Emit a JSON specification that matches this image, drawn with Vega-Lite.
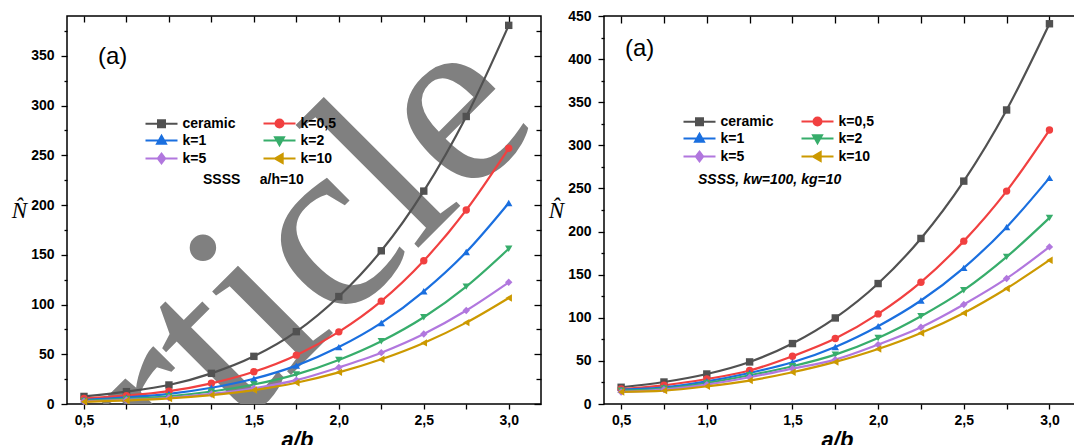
{
  "$schema": "https://vega.github.io/schema/vega-lite/v6.json",
  "padding": {"left": 10, "top": 8, "right": 0, "bottom": 0},
  "spacing": 4,
  "config": {
    "view": {"stroke": "#000", "strokeWidth": 1.5},
    "axis": {"domain": false, "grid": false, "labelFont": "Liberation Sans", "labelFontWeight": "bold", "labelFontSize": 14, "labelColor": "#000", "tickColor": "#000", "tickWidth": 1.3, "titleColor": "#000"},
    "legend": {"orient": "none", "direction": "horizontal", "columns": 2, "columnPadding": 24, "rowPadding": 0, "symbolSize": 256, "symbolStrokeWidth": 2, "symbolOpacity": 1, "labelFont": "Liberation Sans", "labelFontWeight": "bold", "labelFontSize": 14, "labelColor": "#000", "labelOffset": 12, "labelLimit": 200, "padding": 0}
  },
  "datasets": {
    "left": [
      {"ab": 0.5, "series": "ceramic", "N": 7.6}, {"ab": 0.75, "series": "ceramic", "N": 12.4}, {"ab": 1.0, "series": "ceramic", "N": 19.1}, {"ab": 1.25, "series": "ceramic", "N": 30.8}, {"ab": 1.5, "series": "ceramic", "N": 47.9}, {"ab": 1.75, "series": "ceramic", "N": 72.7}, {"ab": 2.0, "series": "ceramic", "N": 108}, {"ab": 2.25, "series": "ceramic", "N": 154}, {"ab": 2.5, "series": "ceramic", "N": 214}, {"ab": 2.75, "series": "ceramic", "N": 289}, {"ab": 3.0, "series": "ceramic", "N": 380.6},
      {"ab": 0.5, "series": "k=0,5", "N": 5.6}, {"ab": 0.75, "series": "k=0,5", "N": 8.4}, {"ab": 1.0, "series": "k=0,5", "N": 12.9}, {"ab": 1.25, "series": "k=0,5", "N": 20.8}, {"ab": 1.5, "series": "k=0,5", "N": 32.4}, {"ab": 1.75, "series": "k=0,5", "N": 49.1}, {"ab": 2.0, "series": "k=0,5", "N": 72.5}, {"ab": 2.25, "series": "k=0,5", "N": 103.4}, {"ab": 2.5, "series": "k=0,5", "N": 144}, {"ab": 2.75, "series": "k=0,5", "N": 195}, {"ab": 3.0, "series": "k=0,5", "N": 257},
      {"ab": 0.5, "series": "k=1", "N": 4.0}, {"ab": 0.75, "series": "k=1", "N": 6.6}, {"ab": 1.0, "series": "k=1", "N": 10.1}, {"ab": 1.25, "series": "k=1", "N": 16.3}, {"ab": 1.5, "series": "k=1", "N": 25.4}, {"ab": 1.75, "series": "k=1", "N": 38.6}, {"ab": 2.0, "series": "k=1", "N": 57.2}, {"ab": 2.25, "series": "k=1", "N": 81.5}, {"ab": 2.5, "series": "k=1", "N": 113.3}, {"ab": 2.75, "series": "k=1", "N": 152.7}, {"ab": 3.0, "series": "k=1", "N": 202},
      {"ab": 0.5, "series": "k=2", "N": 3.1}, {"ab": 0.75, "series": "k=2", "N": 5.1}, {"ab": 1.0, "series": "k=2", "N": 7.8}, {"ab": 1.25, "series": "k=2", "N": 12.6}, {"ab": 1.5, "series": "k=2", "N": 19.6}, {"ab": 1.75, "series": "k=2", "N": 29.8}, {"ab": 2.0, "series": "k=2", "N": 44.3}, {"ab": 2.25, "series": "k=2", "N": 63.1}, {"ab": 2.5, "series": "k=2", "N": 87.2}, {"ab": 2.75, "series": "k=2", "N": 118}, {"ab": 3.0, "series": "k=2", "N": 156},
      {"ab": 0.5, "series": "k=5", "N": 2.5}, {"ab": 0.75, "series": "k=5", "N": 4.1}, {"ab": 1.0, "series": "k=5", "N": 6.3}, {"ab": 1.25, "series": "k=5", "N": 10.1}, {"ab": 1.5, "series": "k=5", "N": 15.8}, {"ab": 1.75, "series": "k=5", "N": 24}, {"ab": 2.0, "series": "k=5", "N": 36.8}, {"ab": 2.25, "series": "k=5", "N": 51.6}, {"ab": 2.5, "series": "k=5", "N": 70.4}, {"ab": 2.75, "series": "k=5", "N": 94}, {"ab": 3.0, "series": "k=5", "N": 122.3},
      {"ab": 0.5, "series": "k=10", "N": 2.2}, {"ab": 0.75, "series": "k=10", "N": 3.6}, {"ab": 1.0, "series": "k=10", "N": 5.6}, {"ab": 1.25, "series": "k=10", "N": 9.0}, {"ab": 1.5, "series": "k=10", "N": 14}, {"ab": 1.75, "series": "k=10", "N": 21.4}, {"ab": 2.0, "series": "k=10", "N": 31.8}, {"ab": 2.25, "series": "k=10", "N": 45}, {"ab": 2.5, "series": "k=10", "N": 61.4}, {"ab": 2.75, "series": "k=10", "N": 81.8}, {"ab": 3.0, "series": "k=10", "N": 106.6}
    ],
    "right": [
      {"ab": 0.5, "series": "ceramic", "N": 19.4}, {"ab": 0.75, "series": "ceramic", "N": 25.5}, {"ab": 1.0, "series": "ceramic", "N": 34.8}, {"ab": 1.25, "series": "ceramic", "N": 48.8}, {"ab": 1.5, "series": "ceramic", "N": 70.1}, {"ab": 1.75, "series": "ceramic", "N": 99.8}, {"ab": 2.0, "series": "ceramic", "N": 139.7}, {"ab": 2.25, "series": "ceramic", "N": 192}, {"ab": 2.5, "series": "ceramic", "N": 258.5}, {"ab": 2.75, "series": "ceramic", "N": 341}, {"ab": 3.0, "series": "ceramic", "N": 441},
      {"ab": 0.5, "series": "k=0,5", "N": 17.4}, {"ab": 0.75, "series": "k=0,5", "N": 21.7}, {"ab": 1.0, "series": "k=0,5", "N": 29}, {"ab": 1.25, "series": "k=0,5", "N": 38.8}, {"ab": 1.5, "series": "k=0,5", "N": 55.4}, {"ab": 1.75, "series": "k=0,5", "N": 75.9}, {"ab": 2.0, "series": "k=0,5", "N": 104.5}, {"ab": 2.25, "series": "k=0,5", "N": 141.3}, {"ab": 2.5, "series": "k=0,5", "N": 188.9}, {"ab": 2.75, "series": "k=0,5", "N": 246.9}, {"ab": 3.0, "series": "k=0,5", "N": 317.7},
      {"ab": 0.5, "series": "k=1", "N": 16.7}, {"ab": 0.75, "series": "k=1", "N": 19.4}, {"ab": 1.0, "series": "k=1", "N": 26.3}, {"ab": 1.25, "series": "k=1", "N": 36}, {"ab": 1.5, "series": "k=1", "N": 48.4}, {"ab": 1.75, "series": "k=1", "N": 66.2}, {"ab": 2.0, "series": "k=1", "N": 90.2}, {"ab": 2.25, "series": "k=1", "N": 120}, {"ab": 2.5, "series": "k=1", "N": 157.9}, {"ab": 2.75, "series": "k=1", "N": 205.1}, {"ab": 3.0, "series": "k=1", "N": 262.3},
      {"ab": 0.5, "series": "k=2", "N": 15.5}, {"ab": 0.75, "series": "k=2", "N": 17.9}, {"ab": 1.0, "series": "k=2", "N": 24.4}, {"ab": 1.25, "series": "k=2", "N": 33.3}, {"ab": 1.5, "series": "k=2", "N": 43.8}, {"ab": 1.75, "series": "k=2", "N": 57.3}, {"ab": 2.0, "series": "k=2", "N": 76.6}, {"ab": 2.25, "series": "k=2", "N": 101.8}, {"ab": 2.5, "series": "k=2", "N": 132}, {"ab": 2.75, "series": "k=2", "N": 170.6}, {"ab": 3.0, "series": "k=2", "N": 215.9},
      {"ab": 0.5, "series": "k=5", "N": 14}, {"ab": 0.75, "series": "k=5", "N": 16.7}, {"ab": 1.0, "series": "k=5", "N": 22.5}, {"ab": 1.25, "series": "k=5", "N": 31}, {"ab": 1.5, "series": "k=5", "N": 41}, {"ab": 1.75, "series": "k=5", "N": 51.5}, {"ab": 2.0, "series": "k=5", "N": 68.9}, {"ab": 2.25, "series": "k=5", "N": 89}, {"ab": 2.5, "series": "k=5", "N": 115.4}, {"ab": 2.75, "series": "k=5", "N": 145.6}, {"ab": 3.0, "series": "k=5", "N": 182.2},
      {"ab": 0.5, "series": "k=10", "N": 13.9}, {"ab": 0.75, "series": "k=10", "N": 15.5}, {"ab": 1.0, "series": "k=10", "N": 20.5}, {"ab": 1.25, "series": "k=10", "N": 27.2}, {"ab": 1.5, "series": "k=10", "N": 36.8}, {"ab": 1.75, "series": "k=10", "N": 48.8}, {"ab": 2.0, "series": "k=10", "N": 63.8}, {"ab": 2.25, "series": "k=10", "N": 82.4}, {"ab": 2.5, "series": "k=10", "N": 105.6}, {"ab": 2.75, "series": "k=10", "N": 134}, {"ab": 3.0, "series": "k=10", "N": 166.8}
    ],
    "leftTag": [{"x": 0.582, "y": 341.7, "t": "(a)"}],
    "leftNote": [{"x": 1.2005, "y": 221.1, "t": "SSSS\u00a0\u00a0\u00a0\u00a0\u00a0a/h=10"}],
    "leftMark": [{"x": 1.754, "y": 35.2, "t": "Article"}],
    "rightTag": [{"x": 0.5226, "y": 403.6, "t": "(a)"}],
    "rightNote": [{"x": 0.9487, "y": 255.2, "t": "SSSS, kw=100, kg=10"}]
  },
  "resolve": {
    "scale": {"color": "independent", "shape": "independent", "fill": "independent", "stroke": "independent"},
    "legend": {"color": "independent", "shape": "independent", "fill": "independent", "stroke": "independent"}
  },
  "hconcat": [
    {
      "width": 474,
      "height": 388,
      "resolve": {
        "scale": {"color": "independent", "shape": "independent", "fill": "independent", "stroke": "independent"},
        "axis": {"x": "independent", "y": "independent"}
      },
      "layer": [
        {
          "data": {"name": "leftMark"},
          "mark": {"type": "text", "font": "Liberation Serif", "fontSize": 250, "angle": -45, "align": "center", "baseline": "alphabetic", "color": "#808080", "clip": true},
          "encoding": {
            "x": {"field": "x", "type": "quantitative", "scale": {"domain": [0.4, 3.19]}, "axis": null},
            "y": {"field": "y", "type": "quantitative", "scale": {"domain": [0, 390]}, "axis": null},
            "text": {"field": "t"}
          }
        },
        {
          "data": {"name": "left"},
          "mark": {"type": "line", "interpolate": "monotone", "strokeWidth": 2.2},
          "encoding": {
            "x": {"field": "ab", "type": "quantitative", "scale": {"domain": [0.4, 3.19]},
              "axis": {"orient": "bottom", "values": [0.5, 0.75, 1.0, 1.25, 1.5, 1.75, 2.0, 2.25, 2.5, 2.75, 3.0], "labelExpr": "round(datum.value*100) % 50 === 0 ? replace(format(datum.value, '.1f'), '.', ',') : ''", "tickSize": 5, "labelPadding": 4,
                "title": "a/b", "titleFont": "Liberation Sans", "titleFontSize": 22, "titleFontWeight": "bold", "titleFontStyle": "italic", "titleX": 230, "titleY": 42, "titleBaseline": "alphabetic", "titleAlign": "center"}},
            "y": {"field": "N", "type": "quantitative", "scale": {"domain": [0, 390]},
              "axis": {"orient": "left", "values": [0, 25, 50, 75, 100, 125, 150, 175, 200, 225, 250, 275, 300, 325, 350, 375], "labelExpr": "datum.value % 50 === 0 ? datum.label : ''", "tickSize": {"condition": {"test": "datum.value % 50 === 0", "value": 6}, "value": 3}, "labelPadding": 7,
                "title": "N\u0302", "titleFont": "Liberation Serif", "titleFontSize": 23, "titleFontWeight": "normal", "titleFontStyle": "italic", "titleAngle": 0, "titleAlign": "right", "titleBaseline": "middle", "titlePadding": 4}},
            "color": {"field": "series", "type": "nominal", "scale": {"domain": ["ceramic", "k=0,5", "k=1", "k=2", "k=5", "k=10"], "range": ["#515151", "#F14040", "#1A6FDF", "#37AD6B", "#B177DE", "#CC9900"]}, "legend": null}
          }
        },
        {
          "data": {"name": "left"},
          "mark": {"type": "point", "filled": true, "size": 55, "opacity": 1},
          "encoding": {
            "x": {"field": "ab", "type": "quantitative", "scale": {"domain": [0.4, 3.19]},
              "axis": {"orient": "top", "values": [0.5, 0.75, 1.0, 1.25, 1.5, 1.75, 2.0, 2.25, 2.5, 2.75, 3.0], "labels": false, "tickSize": -6, "title": null}},
            "y": {"field": "N", "type": "quantitative", "scale": {"domain": [0, 390]},
              "axis": {"orient": "right", "values": [0, 25, 50, 75, 100, 125, 150, 175, 200, 225, 250, 275, 300, 325, 350, 375], "labels": false, "tickSize": {"condition": {"test": "datum.value % 50 === 0", "value": -7}, "value": -5}, "title": null}},
            "color": {"field": "series", "type": "nominal", "scale": {"domain": ["ceramic", "k=0,5", "k=1", "k=2", "k=5", "k=10"], "range": ["#515151", "#F14040", "#1A6FDF", "#37AD6B", "#B177DE", "#CC9900"]}, "legend": null},
            "shape": {"field": "series", "type": "nominal", "scale": {"domain": ["ceramic", "k=0,5", "k=1", "k=2", "k=5", "k=10"], "range": ["square", "circle", "triangle-up", "triangle-down", "diamond", "triangle-left"]}, "legend": null}
          }
        },
        {
          "data": {"name": "left"},
          "transform": [{"filter": "datum.ab > 100"}],
          "mark": {"type": "point", "filled": true},
          "encoding": {
            "x": {"field": "ab", "type": "quantitative", "scale": {"domain": [0.4, 3.19]}, "axis": null},
            "y": {"field": "N", "type": "quantitative", "scale": {"domain": [0, 390]}, "axis": null},
            "fill": {"field": "series", "type": "nominal", "scale": {"domain": ["ceramic", "k=0,5", "k=1", "k=2", "k=5", "k=10"], "range": ["#515151", "#F14040", "#1A6FDF", "#37AD6B", "#B177DE", "#CC9900"]},
              "legend": {"legendX": 85.5, "legendY": 98.5, "direction": "horizontal", "columns": 2, "title": null}},
            "stroke": {"field": "series", "type": "nominal", "scale": {"domain": ["ceramic", "k=0,5", "k=1", "k=2", "k=5", "k=10"], "range": ["#515151", "#F14040", "#1A6FDF", "#37AD6B", "#B177DE", "#CC9900"]},
              "legend": {"legendX": 85.5, "legendY": 98.5, "direction": "horizontal", "columns": 2, "title": null}},
            "shape": {"field": "series", "type": "nominal", "scale": {"domain": ["ceramic", "k=0,5", "k=1", "k=2", "k=5", "k=10"], "range": ["M-2,0L2,0M-0.44,-0.44L0.44,-0.44L0.44,0.44L-0.44,0.44Z", "M-2,0L2,0M0.5,0A0.5,0.5,0,1,1,-0.5,0A0.5,0.5,0,1,1,0.5,0Z", "M-2,0L2,0M0,-0.58L0.56,0.4L-0.56,0.4Z", "M-2,0L2,0M0,0.58L0.56,-0.4L-0.56,-0.4Z", "M-2,0L2,0M0,-0.6L0.46,0L0,0.6L-0.46,0Z", "M-2,0L2,0M-0.58,0L0.4,-0.56L0.4,0.56Z"]},
              "legend": {"legendX": 85.5, "legendY": 98.5, "direction": "horizontal", "columns": 2, "title": null}}
          }
        },
        {
          "data": {"name": "leftTag"},
          "mark": {"type": "text", "font": "Liberation Sans", "fontSize": 24, "align": "left", "baseline": "alphabetic", "color": "#000"},
          "encoding": {
            "x": {"field": "x", "type": "quantitative", "scale": {"domain": [0.4, 3.19]}, "axis": null},
            "y": {"field": "y", "type": "quantitative", "scale": {"domain": [0, 390]}, "axis": null},
            "text": {"field": "t"}
          }
        },
        {
          "data": {"name": "leftNote"},
          "mark": {"type": "text", "font": "Liberation Sans", "fontSize": 14, "fontWeight": "bold", "align": "left", "baseline": "alphabetic", "color": "#000"},
          "encoding": {
            "x": {"field": "x", "type": "quantitative", "scale": {"domain": [0.4, 3.19]}, "axis": null},
            "y": {"field": "y", "type": "quantitative", "scale": {"domain": [0, 390]}, "axis": null},
            "text": {"field": "t"}
          }
        }
      ]
    },
    {
      "width": 478,
      "height": 388,
      "resolve": {
        "scale": {"color": "independent", "shape": "independent", "fill": "independent", "stroke": "independent"},
        "axis": {"x": "independent", "y": "independent"}
      },
      "layer": [
        {
          "data": {"name": "right"},
          "mark": {"type": "line", "interpolate": "monotone", "strokeWidth": 2.2},
          "encoding": {
            "x": {"field": "ab", "type": "quantitative", "scale": {"domain": [0.4, 3.19]},
              "axis": {"orient": "bottom", "values": [0.5, 0.75, 1.0, 1.25, 1.5, 1.75, 2.0, 2.25, 2.5, 2.75, 3.0], "labelExpr": "round(datum.value*100) % 50 === 0 ? replace(format(datum.value, '.1f'), '.', ',') : ''", "tickSize": 5, "labelPadding": 4,
                "title": "a/b", "titleFont": "Liberation Sans", "titleFontSize": 22, "titleFontWeight": "bold", "titleFontStyle": "italic", "titleX": 233, "titleY": 42, "titleBaseline": "alphabetic", "titleAlign": "center"}},
            "y": {"field": "N", "type": "quantitative", "scale": {"domain": [0, 450]},
              "axis": {"orient": "left", "values": [0, 25, 50, 75, 100, 125, 150, 175, 200, 225, 250, 275, 300, 325, 350, 375, 400, 425, 450], "labelExpr": "datum.value % 50 === 0 ? datum.label : ''", "tickSize": {"condition": {"test": "datum.value % 50 === 0", "value": 6}, "value": 3}, "labelPadding": 7,
                "title": "N\u0302", "titleFont": "Liberation Serif", "titleFontSize": 23, "titleFontWeight": "normal", "titleFontStyle": "italic", "titleAngle": 0, "titleAlign": "right", "titleBaseline": "middle", "titlePadding": 4}},
            "color": {"field": "series", "type": "nominal", "scale": {"domain": ["ceramic", "k=0,5", "k=1", "k=2", "k=5", "k=10"], "range": ["#515151", "#F14040", "#1A6FDF", "#37AD6B", "#B177DE", "#CC9900"]}, "legend": null}
          }
        },
        {
          "data": {"name": "right"},
          "mark": {"type": "point", "filled": true, "size": 55, "opacity": 1},
          "encoding": {
            "x": {"field": "ab", "type": "quantitative", "scale": {"domain": [0.4, 3.19]},
              "axis": {"orient": "top", "values": [0.5, 0.75, 1.0, 1.25, 1.5, 1.75, 2.0, 2.25, 2.5, 2.75, 3.0], "labels": false, "tickSize": -7, "title": null}},
            "y": {"field": "N", "type": "quantitative", "scale": {"domain": [0, 450]},
              "axis": {"orient": "right", "values": [0, 25, 50, 75, 100, 125, 150, 175, 200, 225, 250, 275, 300, 325, 350, 375, 400, 425, 450], "labels": false, "tickSize": {"condition": {"test": "datum.value % 50 === 0", "value": -7}, "value": -3}, "title": null}},
            "color": {"field": "series", "type": "nominal", "scale": {"domain": ["ceramic", "k=0,5", "k=1", "k=2", "k=5", "k=10"], "range": ["#515151", "#F14040", "#1A6FDF", "#37AD6B", "#B177DE", "#CC9900"]}, "legend": null},
            "shape": {"field": "series", "type": "nominal", "scale": {"domain": ["ceramic", "k=0,5", "k=1", "k=2", "k=5", "k=10"], "range": ["square", "circle", "triangle-up", "triangle-down", "diamond", "triangle-left"]}, "legend": null}
          }
        },
        {
          "data": {"name": "right"},
          "transform": [{"filter": "datum.ab > 100"}],
          "mark": {"type": "point", "filled": true},
          "encoding": {
            "x": {"field": "ab", "type": "quantitative", "scale": {"domain": [0.4, 3.19]}, "axis": null},
            "y": {"field": "N", "type": "quantitative", "scale": {"domain": [0, 450]}, "axis": null},
            "fill": {"field": "series", "type": "nominal", "scale": {"domain": ["ceramic", "k=0,5", "k=1", "k=2", "k=5", "k=10"], "range": ["#515151", "#F14040", "#1A6FDF", "#37AD6B", "#B177DE", "#CC9900"]},
              "legend": {"legendX": 86.5, "legendY": 96.5, "direction": "horizontal", "columns": 2, "title": null}},
            "stroke": {"field": "series", "type": "nominal", "scale": {"domain": ["ceramic", "k=0,5", "k=1", "k=2", "k=5", "k=10"], "range": ["#515151", "#F14040", "#1A6FDF", "#37AD6B", "#B177DE", "#CC9900"]},
              "legend": {"legendX": 86.5, "legendY": 96.5, "direction": "horizontal", "columns": 2, "title": null}},
            "shape": {"field": "series", "type": "nominal", "scale": {"domain": ["ceramic", "k=0,5", "k=1", "k=2", "k=5", "k=10"], "range": ["M-2,0L2,0M-0.44,-0.44L0.44,-0.44L0.44,0.44L-0.44,0.44Z", "M-2,0L2,0M0.5,0A0.5,0.5,0,1,1,-0.5,0A0.5,0.5,0,1,1,0.5,0Z", "M-2,0L2,0M0,-0.58L0.56,0.4L-0.56,0.4Z", "M-2,0L2,0M0,0.58L0.56,-0.4L-0.56,-0.4Z", "M-2,0L2,0M0,-0.6L0.46,0L0,0.6L-0.46,0Z", "M-2,0L2,0M-0.58,0L0.4,-0.56L0.4,0.56Z"]},
              "legend": {"legendX": 86.5, "legendY": 96.5, "direction": "horizontal", "columns": 2, "title": null}}
          }
        },
        {
          "data": {"name": "rightTag"},
          "mark": {"type": "text", "font": "Liberation Sans", "fontSize": 24, "align": "left", "baseline": "alphabetic", "color": "#000"},
          "encoding": {
            "x": {"field": "x", "type": "quantitative", "scale": {"domain": [0.4, 3.19]}, "axis": null},
            "y": {"field": "y", "type": "quantitative", "scale": {"domain": [0, 450]}, "axis": null},
            "text": {"field": "t"}
          }
        },
        {
          "data": {"name": "rightNote"},
          "mark": {"type": "text", "font": "Liberation Sans", "fontSize": 14, "fontWeight": "bold", "fontStyle": "italic", "align": "left", "baseline": "alphabetic", "color": "#000"},
          "encoding": {
            "x": {"field": "x", "type": "quantitative", "scale": {"domain": [0.4, 3.19]}, "axis": null},
            "y": {"field": "y", "type": "quantitative", "scale": {"domain": [0, 450]}, "axis": null},
            "text": {"field": "t"}
          }
        }
      ]
    }
  ]
}
